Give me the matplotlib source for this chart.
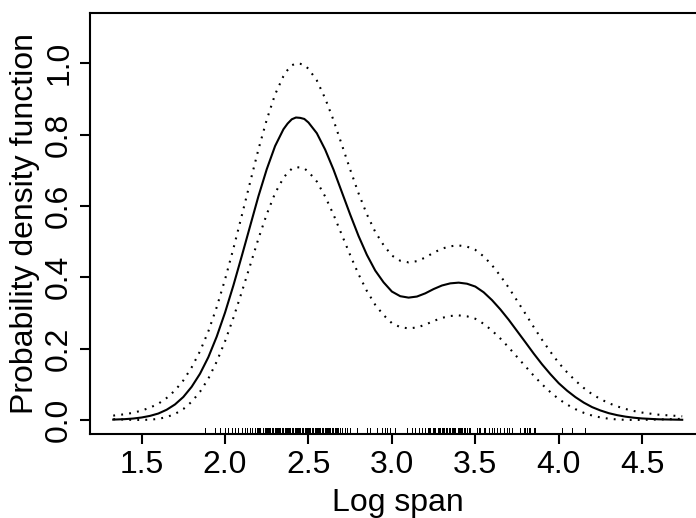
import numpy as np
import matplotlib
matplotlib.use("Agg")
import matplotlib.pyplot as plt

plt.rcParams['font.family'] = ['Liberation Sans', 'DejaVu Sans']

# density estimate
log_span = [1.33, 1.4, 1.45, 1.5, 1.55, 1.6, 1.65, 1.7, 1.75, 1.8, 1.85, 1.9,
            1.95, 2.0, 2.05, 2.1, 2.15, 2.2, 2.25, 2.3, 2.35, 2.375, 2.4, 2.425,
            2.45, 2.475, 2.5, 2.55, 2.6, 2.65, 2.7, 2.75, 2.8, 2.85, 2.9, 2.95,
            3.0, 3.05, 3.1, 3.15, 3.2, 3.25, 3.3, 3.35, 3.4, 3.45, 3.5, 3.55,
            3.6, 3.65, 3.7, 3.75, 3.8, 3.85, 3.9, 3.95, 4.0, 4.05, 4.1, 4.15,
            4.2, 4.25, 4.3, 4.35, 4.4, 4.45, 4.5, 4.6, 4.74]
pdf = [0.001, 0.0023, 0.0040, 0.0069, 0.0114, 0.018, 0.0286, 0.0435, 0.0644,
       0.093, 0.1296, 0.176, 0.2335, 0.301, 0.377, 0.459, 0.543, 0.627, 0.703,
       0.768, 0.815, 0.831, 0.843, 0.848, 0.847, 0.844, 0.834, 0.804, 0.758,
       0.702, 0.639, 0.576, 0.516, 0.463, 0.419, 0.386, 0.360, 0.347, 0.343,
       0.346, 0.355, 0.367, 0.377, 0.383, 0.385, 0.382, 0.374, 0.358, 0.336,
       0.310, 0.281, 0.2495, 0.218, 0.1861, 0.156, 0.1284, 0.103, 0.0821,
       0.064, 0.0486, 0.036, 0.0266, 0.019, 0.0135, 0.0093, 0.0063, 0.0042,
       0.0018, 0.0005]
pdf_upper = [0.0122, 0.0161, 0.0202, 0.0263, 0.0345, 0.0454, 0.0616, 0.0827,
             0.1108, 0.1475, 0.1927, 0.2485, 0.3161, 0.3939, 0.4802, 0.5723,
             0.6657, 0.7583, 0.8418, 0.9128, 0.9639, 0.9813, 0.9942, 0.9998,
             0.9986, 0.9954, 0.9845, 0.9520, 0.9017, 0.8407, 0.7716, 0.7021,
             0.6357, 0.5767, 0.5275, 0.4904, 0.4610, 0.4464, 0.4418, 0.4452,
             0.4554, 0.4690, 0.4802, 0.4871, 0.4893, 0.4860, 0.4769, 0.4587,
             0.4339, 0.4042, 0.3710, 0.3347, 0.2980, 0.2605, 0.2247, 0.1912,
             0.1599, 0.1336, 0.1102, 0.0897, 0.0722, 0.0586, 0.0470, 0.0381,
             0.0308, 0.0251, 0.0207, 0.0147, 0.0103]
pdf_lower = [0.0022, 0.0010, 0.0002, 0.0000, 0.0008, 0.0030, 0.0081, 0.0168,
             0.0306, 0.0511, 0.0790, 0.1159, 0.1634, 0.2205, 0.2862, 0.3582,
             0.4328, 0.5081, 0.5768, 0.6358, 0.6786, 0.6932, 0.7041, 0.7088,
             0.7078, 0.7051, 0.6959, 0.6686, 0.6266, 0.5759, 0.5190, 0.4623,
             0.4087, 0.3617, 0.3230, 0.2941, 0.2714, 0.2602, 0.2567, 0.2593,
             0.2671, 0.2775, 0.2862, 0.2915, 0.2932, 0.2906, 0.2837, 0.2697,
             0.2507, 0.2283, 0.2035, 0.1768, 0.1505, 0.1242, 0.0999, 0.0780,
             0.0585, 0.0431, 0.0303, 0.0200, 0.0123, 0.0071, 0.0035, 0.0014,
             0.0003, 0.0000, 0.0002, 0.0013, 0.0032]

# observations shown in the rug
rug = [1.88, 1.94, 1.97, 2.00, 2.02, 2.04, 2.06, 2.08, 2.10, 2.12, 2.13, 2.15,
       2.16, 2.18, 2.19, 2.20, 2.205, 2.21, 2.225, 2.23, 2.24, 2.245, 2.25,
       2.26, 2.265, 2.27, 2.28, 2.285, 2.29, 2.30, 2.305, 2.31, 2.32, 2.325,
       2.33, 2.34, 2.345, 2.35, 2.36, 2.365, 2.37, 2.38, 2.385, 2.39, 2.40,
       2.405, 2.41, 2.42, 2.425, 2.43, 2.44, 2.445, 2.45, 2.46, 2.465, 2.47,
       2.48, 2.485, 2.49, 2.50, 2.505, 2.51, 2.52, 2.525, 2.53, 2.54, 2.545,
       2.55, 2.56, 2.565, 2.57, 2.58, 2.585, 2.59, 2.60, 2.605, 2.61, 2.62,
       2.625, 2.63, 2.64, 2.645, 2.65, 2.66, 2.665, 2.67, 2.68, 2.69, 2.70,
       2.72, 2.73, 2.75, 2.79, 2.85, 2.87, 2.91, 2.94, 2.96, 2.97, 2.99, 3.02,
       3.09, 3.12, 3.14, 3.16, 3.18, 3.20, 3.215, 3.22, 3.23, 3.245, 3.25,
       3.26, 3.275, 3.28, 3.29, 3.30, 3.305, 3.31, 3.325, 3.33, 3.34, 3.345,
       3.35, 3.36, 3.365, 3.37, 3.38, 3.395, 3.40, 3.41, 3.415, 3.42, 3.435,
       3.44, 3.45, 3.46, 3.47, 3.51, 3.52, 3.53, 3.55, 3.56, 3.58, 3.60, 3.61,
       3.63, 3.65, 3.67, 3.69, 3.70, 3.72, 3.77, 3.79, 3.80, 3.81, 3.82, 3.83,
       3.85, 3.86, 4.02, 4.08, 4.16]

xticks = [1.5, 2.0, 2.5, 3.0, 3.5, 4.0, 4.5]
yticks = [0.0, 0.2, 0.4, 0.6, 0.8, 1.0]

fig = plt.figure(figsize=(6.96, 5.18), dpi=100)
ax = fig.add_axes([0.130, 0.1631, 0.8829, 0.8118])

dots = (0, (0.9, 2.95))
ax.plot(log_span, pdf, color='black', lw=1.5, solid_joinstyle='round')
ax.plot(log_span, pdf_upper, color='black', lw=1.5, linestyle=dots)
ax.plot(log_span, pdf_lower, color='black', lw=1.5, linestyle=dots)
ax.vlines(rug, 0, 0.012, transform=ax.get_xaxis_transform(), color='black',
          lw=0.5, antialiased=False)

ax.set_xlim(1.1936, 4.8764)
ax.set_ylim(-0.038, 1.141)
ax.set_xticks(xticks)
ax.set_xticklabels(['%.1f' % t for t in xticks])
ax.set_yticks(yticks)
ax.set_yticklabels(['%.1f' % t for t in yticks], rotation=90, va='center')
ax.tick_params(direction='out', length=7.2, width=1.5, labelsize=23, pad=4.5)
for s in ax.spines.values():
    s.set_linewidth(1.5)

ax.set_xlabel('Log span', fontsize=23, labelpad=6)
ax.set_ylabel('Probability density function', fontsize=23, labelpad=3)

fig.savefig('out.png', dpi=100)
